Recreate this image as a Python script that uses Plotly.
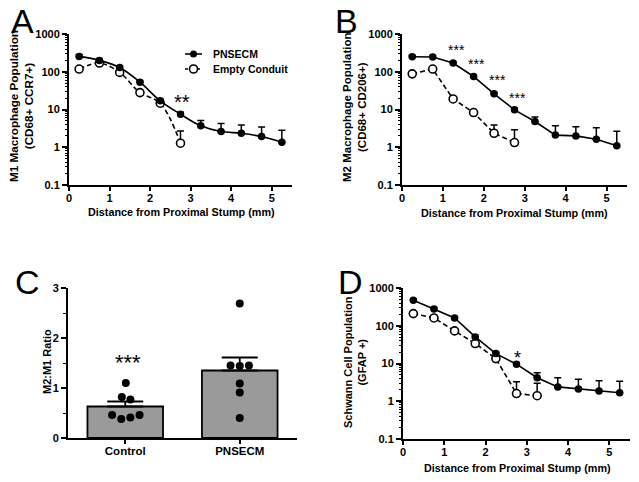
import math
import plotly.graph_objects as go

# ---------------- data ----------------
distance = [0.25, 0.75, 1.25, 1.75, 2.25, 2.75, 3.25, 3.75, 4.25, 4.75, 5.25]

m1_pnsecm = [255, 200, 130, 53, 17, 7.5, 3.7, 2.6, 2.35, 1.92, 1.36]
m1_pnsecm_err = [30, 25, 15, 6, 2, 1, 1.4, 1.65, 1.55, 1.5, 1.45]
m1_empty = [118, 170, 96, 28, 14.7, 1.28]
m1_empty_err = [12, 20, 10, 4, 2, 1.4]

m2_pnsecm = [250, 245, 170, 75, 26, 9.8, 4.8, 2.1, 2.0, 1.63, 1.1]
m2_pnsecm_err = [25, 25, 15, 7, 2.5, 1, 1.5, 1.6, 1.5, 1.67, 1.56]
m2_empty = [88, 118, 19, 8.3, 2.35, 1.33]
m2_empty_err = [8, 12, 2, 0.9, 1.55, 1.57]

sc_pnsecm = [472, 279, 161, 50.6, 18.3, 9.6, 4.2, 2.4, 2.1, 1.86, 1.68]
sc_pnsecm_err = [40, 25, 15, 5, 2, 1, 1.5, 1.8, 1.7, 1.64, 1.72]
sc_empty = [210, 161, 73, 33.8, 13.5, 1.6, 1.4]
sc_empty_err = [20, 15, 7, 3, 1.5, 1.7, 1.6]

ratio_groups = ["Control", "PNSECM"]
ratio_means = [0.63, 1.35]
ratio_sem = [0.10, 0.26]
ratio_control_pts = [1.10, 0.82, 0.77, 0.46, 0.38, 0.41, 0.46]
ratio_pnsecm_pts = [2.69, 1.45, 1.44, 1.45, 1.09, 0.91, 0.40]

log_tickvals = [0.1, 1, 10, 100, 1000]
log_ticktext = ["0.1", "1", "10", "100", "1000"]

series_names = ["PNSECM", "Empty Conduit"]
x_title = "Distance from Proximal Stump (mm)"
y_titles = {
    "A": "M1 Macrophage Population<br>(CD68+ CCR7+)",
    "B": "M2 Macrophage Population<br>(CD68+ CD206+)",
    "C": "M2:M1 Ratio",
    "D": "Schwann Cell Population<br>(GFAP +)",
}

# significance labels (x, y, text)
sig_A = [(2.78, 15.5, "**")]
sig_B = [(1.32, 370, "***"), (1.82, 165, "***"), (2.33, 59, "***"), (2.82, 20.5, "***")]
sig_D = [(2.78, 14.0, "*")]
sig_C = [(0.02, 1.52, "***")]

# ---------------- style / layout helpers ----------------
W, H = 639, 482
def fx(px):
    return px / W
def fy(py):
    return 1 - py / H

FONT = "Liberation Sans, Arial, sans-serif"
DASH = "5px,3px"
# jitter of scatter dots in panel C (layout only)
jit_ctrl = [0.005, -0.03, 0.045, -0.115, -0.035, 0.045, 0.125]
jit_pns = [0.0, -0.08, 0.0, 0.08, 0.0, 0.0, 0.0]

fig = go.Figure()

def add_line_pair(xa, ya, pn, pn_err, em, em_err, shape):
    n_e = len(em)
    fig.add_trace(go.Scatter(
        x=distance[:n_e], y=em, xaxis=xa, yaxis=ya, mode="lines+markers",
        name=series_names[1], showlegend=False,
        line=dict(color="black", width=1.6, dash=DASH, shape=shape),
        marker=dict(symbol="circle", size=8, color="white",
                    line=dict(color="black", width=1.6)),
        error_y=dict(type="data", array=em_err, arrayminus=[0] * n_e,
                     color="black", thickness=1.5, width=3.5),
    ))
    fig.add_trace(go.Scatter(
        x=distance, y=pn, xaxis=xa, yaxis=ya, mode="lines+markers",
        name=series_names[0], showlegend=False,
        line=dict(color="black", width=1.6, shape=shape),
        marker=dict(symbol="circle", size=7.5, color="black"),
        error_y=dict(type="data", array=pn_err, arrayminus=[0] * len(pn),
                     color="black", thickness=1.5, width=3.5),
    ))

add_line_pair("x", "y", m1_pnsecm, m1_pnsecm_err, m1_empty, m1_empty_err, "spline")
add_line_pair("x2", "y2", m2_pnsecm, m2_pnsecm_err, m2_empty, m2_empty_err, "linear")
add_line_pair("x4", "y4", sc_pnsecm, sc_pnsecm_err, sc_empty, sc_empty_err, "linear")

# Panel C bars
fig.add_trace(go.Bar(
    x=[0, 1], y=ratio_means, xaxis="x3", yaxis="y3", width=0.66,
    marker=dict(color="#9a9a9a", line=dict(color="black", width=1.8)),
    error_y=dict(type="data", array=ratio_sem, arrayminus=[0, 0],
                 color="black", thickness=1.8, width=18),
    showlegend=False,
))
fig.add_trace(go.Scatter(
    x=[0 + j for j in jit_ctrl], y=ratio_control_pts, xaxis="x3", yaxis="y3",
    mode="markers", marker=dict(color="black", size=8), showlegend=False,
))
fig.add_trace(go.Scatter(
    x=[1 + j for j in jit_pns], y=ratio_pnsecm_pts, xaxis="x3", yaxis="y3",
    mode="markers", marker=dict(color="black", size=8), showlegend=False,
))

def bold(size):
    return dict(family=FONT, size=size, color="black", weight="bold")

tickfont = bold(11)

def xdist(domain, anchor):
    return dict(domain=domain, anchor=anchor, range=[0, 5.5], dtick=1, tick0=0,
                automargin=False, ticklabelstandoff=-2,
                showline=True, linecolor="black", linewidth=2, ticks="outside",
                ticklen=4, tickwidth=1.5, tickcolor="black", showgrid=False,
                zeroline=False, tickfont=tickfont)

def ylog(domain, anchor):
    return dict(domain=domain, anchor=anchor, type="log", range=[-1, 3],
                automargin=False,
                tickvals=log_tickvals, ticktext=log_ticktext,
                showline=True, linecolor="black", linewidth=2, ticks="outside",
                ticklen=5, tickwidth=1.5, tickcolor="black", showgrid=False,
                zeroline=False, tickfont=tickfont,
                minor=dict(ticks="outside", ticklen=2.5, tickwidth=1, tickcolor="black",
                           dtick="D1", showgrid=False))

fig.update_layout(
    template="none",
    width=W, height=H, margin=dict(l=0, r=0, t=0, b=0, pad=0),
    paper_bgcolor="white", plot_bgcolor="white",
    font=dict(family=FONT, color="black"),
    showlegend=False, hovermode=False,
    xaxis=xdist([fx(69), fx(292)], "y"),
    yaxis=ylog([fy(185), fy(34)], "x"),
    xaxis2=xdist([fx(402), fx(627)], "y2"),
    yaxis2=ylog([fy(185), fy(34)], "x2"),
    xaxis4=xdist([fx(403), fx(630)], "y4"),
    yaxis4=ylog([fy(439), fy(288)], "x4"),
    xaxis3=dict(domain=[fx(68), fx(297)], anchor="y3", range=[-0.5, 1.5],
                automargin=False, ticklabelstandoff=-3,
                tickvals=[0, 1], ticktext=ratio_groups, showline=True,
                linecolor="black", linewidth=2, ticks="outside", ticklen=4,
                tickwidth=1.5, tickcolor="black", showgrid=False, zeroline=False,
                tickfont=bold(11.5)),
    yaxis3=dict(domain=[fy(438), fy(288)], anchor="x3", range=[0, 3], dtick=1,
                automargin=False,
                showline=True, linecolor="black", linewidth=2, ticks="outside",
                ticklen=5, tickwidth=1.5, tickcolor="black", showgrid=False,
                zeroline=False, tickfont=tickfont,
                minor=dict(ticks="outside", ticklen=3, tickwidth=1.2, tickcolor="black",
                           dtick=0.5, showgrid=False)),
)

annos = []
# panel letters
for (lx, ly, lt) in [(9, 0, "A"), (333, 0, "B"), (13, 261, "C"), (336, 261, "D")]:
    annos.append(dict(x=fx(lx), y=fy(ly), xref="paper", yref="paper", text=lt,
                      showarrow=False, xanchor="left", yanchor="top",
                      font=dict(family=FONT, size=34, color="black")))
# axis titles
for (cx, cy) in [(181, 212), (514, 213), (517, 468)]:
    annos.append(dict(x=fx(cx), y=fy(cy), xref="paper", yref="paper", text=x_title,
                      showarrow=False, xanchor="center", yanchor="middle", font=bold(10.8)))
for key, (cx, cy), fs in [("A", (21, 106), 11.7), ("B", (354, 107), 11.5),
                          ("C", (47, 362), 11), ("D", (355, 362), 11)]:
    annos.append(dict(x=fx(cx), y=fy(cy), xref="paper", yref="paper", text=y_titles[key],
                      textangle=-90, showarrow=False, xanchor="center", yanchor="middle",
                      font=bold(fs)))
# legend (panel A)
annos.append(dict(x=fx(211), y=fy(54), xref="paper", yref="paper", text=series_names[0],
                  showarrow=False, xanchor="left", yanchor="middle", font=bold(10.5)))
annos.append(dict(x=fx(211), y=fy(69), xref="paper", yref="paper", text=series_names[1],
                  showarrow=False, xanchor="left", yanchor="middle", font=bold(10.5)))
# significance
for (sx, sy, st) in sig_A:
    annos.append(dict(x=sx, y=math.log10(sy), xref="x", yref="y", text=st, showarrow=False,
                      font=dict(family=FONT, size=20, color="black")))
for (sx, sy, st) in sig_B:
    annos.append(dict(x=sx, y=math.log10(sy), xref="x2", yref="y2", text=st, showarrow=False,
                      font=dict(family=FONT, size=14, color="black")))
for (sx, sy, st) in sig_D:
    annos.append(dict(x=sx, y=math.log10(sy), xref="x4", yref="y4", text=st, showarrow=False,
                      font=dict(family=FONT, size=18, color="black")))
for (sx, sy, st) in sig_C:
    annos.append(dict(x=sx, y=sy, xref="x3", yref="y3", text=st, showarrow=False,
                      font=dict(family=FONT, size=22, color="black")))

# legend symbols (shapes in paper coords)
shapes = [
    dict(type="line", xref="paper", yref="paper", x0=fx(185), x1=fx(202), y0=fy(54), y1=fy(54),
         line=dict(color="black", width=1.6)),
    dict(type="circle", xref="paper", yref="paper", x0=fx(190), x1=fx(197), y0=fy(57.5), y1=fy(50.5),
         fillcolor="black", line=dict(color="black", width=0)),
    dict(type="line", xref="paper", yref="paper", x0=fx(185), x1=fx(202), y0=fy(69), y1=fy(69),
         line=dict(color="black", width=1.6, dash="3px,3px")),
    dict(type="circle", xref="paper", yref="paper", x0=fx(189.5), x1=fx(197.5), y0=fy(73), y1=fy(65),
         fillcolor="white", line=dict(color="black", width=1.6)),
]
fig.update_layout(annotations=annos, shapes=shapes)

fig.write_html("out.html", config={"displayModeBar": False},
               post_script="document.body.style.margin='0';")
